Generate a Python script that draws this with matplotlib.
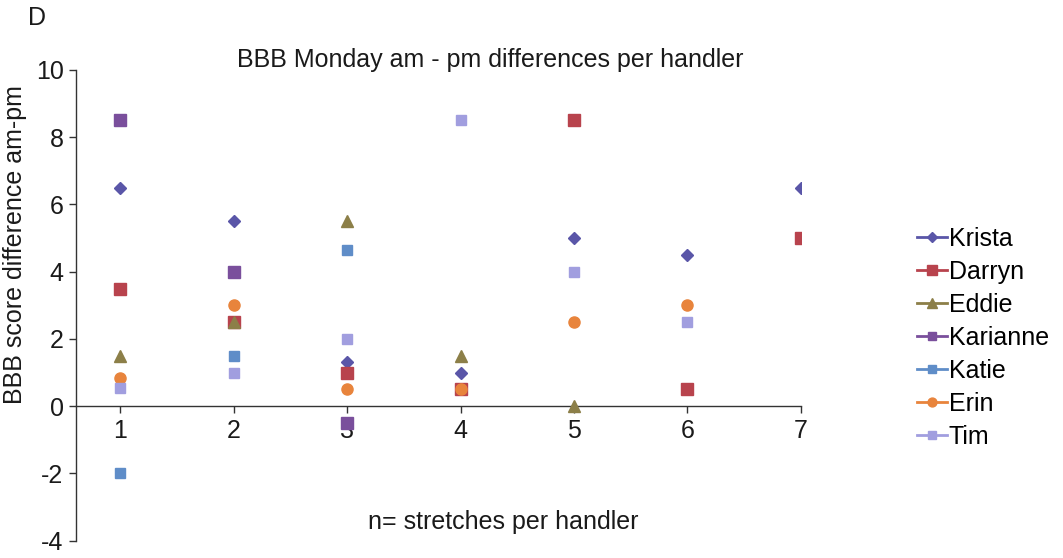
import matplotlib
matplotlib.use("Agg")
import matplotlib.pyplot as plt
from matplotlib.lines import Line2D

plt.rcParams['font.family'] = ['Liberation Sans', 'DejaVu Sans']

handlers = ["Krista", "Darryn", "Eddie", "Karianne", "Katie", "Erin", "Tim"]

krista_x = [1, 2, 3, 4, 5, 6, 7]
krista_y = [6.5, 5.5, 1.3, 1.0, 5.0, 4.5, 6.5]
darryn_x = [1, 2, 3, 4, 5, 6, 7]
darryn_y = [3.5, 2.5, 1.0, 0.5, 8.5, 0.5, 5.0]
eddie_x = [1, 2, 3, 4, 5]
eddie_y = [1.5, 2.5, 5.5, 1.5, 0.0]
karianne_x = [1, 2, 3]
karianne_y = [8.5, 4.0, -0.5]
katie_x = [1, 2, 3]
katie_y = [-2.0, 1.5, 4.65]
erin_x = [1, 2, 3, 4, 5, 6]
erin_y = [0.85, 3.0, 0.5, 0.5, 2.5, 3.0]
tim_x = [1, 2, 3, 4, 5, 6]
tim_y = [0.55, 1.0, 2.0, 8.5, 4.0, 2.5]

xs = [krista_x, darryn_x, eddie_x, karianne_x, katie_x, erin_x, tim_x]
ys = [krista_y, darryn_y, eddie_y, karianne_y, katie_y, erin_y, tim_y]
colors = ["#5A56A8", "#B8434D", "#8C7F48", "#7A4F9C", "#5F8DC8", "#E8843C", "#A19EDF"]
markers = ["D", "s", "^", "s", "s", "o", "s"]
sizes = [6.5, 8.5, 8.5, 8, 7.5, 8, 7.5]

x_ticks = [1, 2, 3, 4, 5, 6, 7]
y_ticks = [-4, -2, 0, 2, 4, 6, 8, 10]

FS = 18

fig = plt.figure(figsize=(10.63, 5.58), dpi=100)
ax = fig.add_axes([0.0715, 0.031, 0.682, 0.8436])

handles = []
for name, x, y, c, m, s in zip(handlers, xs, ys, colors, markers, sizes):
    ax.plot(x, y, linestyle="none", marker=m, markersize=s, color=c,
            markeredgecolor=c, zorder=3)
    handles.append(Line2D([0], [0], color=c, marker=m, markersize=s * 0.8,
                          markeredgecolor=c, linewidth=2))

ax.set_xlim(0.612, 7.0)
ax.set_ylim(-4, 10)
ax.set_xticks(x_ticks)
ax.set_yticks(y_ticks)
ax.set_xticklabels([str(v) for v in x_ticks])
ax.set_yticklabels([str(v) for v in y_ticks])

ax.spines['top'].set_visible(False)
ax.spines['right'].set_visible(False)
ax.spines['bottom'].set_position(('data', 0))
ax.spines['left'].set_color('#333333')
ax.spines['bottom'].set_color('#333333')
ax.spines['left'].set_linewidth(1.0)
ax.spines['bottom'].set_linewidth(1.0)
ax.tick_params(axis='both', direction='out', length=5, width=1,
               colors='#333333', labelsize=FS, labelcolor='#1a1a1a')
ax.tick_params(axis='x', pad=4)
ax.tick_params(axis='y', pad=4)
ax.patch.set_visible(False)

ax.set_ylabel("BBB score difference am-pm", fontsize=FS, color='#1a1a1a')
ax.yaxis.set_label_coords(-0.068, 0.63)

fig.text(0.461, 0.892, "BBB Monday am - pm differences per handler",
         fontsize=FS, ha='center', va='center', color='#1a1a1a')
fig.text(0.473, 0.065, "n= stretches per handler", fontsize=FS,
         ha='center', va='center', color='#1a1a1a')
fig.text(0.035, 0.967, "D", fontsize=FS, ha='center', va='center', color='#1a1a1a')

fig.legend(handles, handlers, loc='center left', bbox_to_anchor=(0.863, 0.394),
           frameon=False, fontsize=FS, handlelength=1.2, handletextpad=0.05,
           labelspacing=0.36, borderaxespad=0, borderpad=0)

fig.savefig("out.png", dpi=100)
